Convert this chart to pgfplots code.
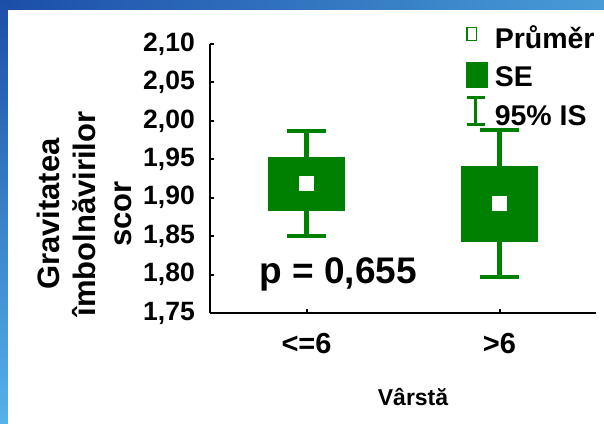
\documentclass[border=0pt]{standalone}
\usepackage{fontspec}
\setmainfont{Liberation Sans}
\usepackage{pgfplots}
\pgfplotsset{compat=1.18}
\usepgfplotslibrary{statistics}
\definecolor{ggreen}{RGB}{0,128,0}
\definecolor{bdark}{RGB}{28,78,168}
\definecolor{blightr}{RGB}{72,155,215}
\definecolor{blightb}{RGB}{85,178,232}
\begin{document}
\begin{tikzpicture}
\shade[left color=bdark, right color=blightr] (0pt,413pt) rectangle (604pt,423pt);
\shade[top color=bdark, bottom color=blightb] (0pt,0pt) rectangle (8pt,423pt);
\fill[white] (8pt,0pt) rectangle (604pt,413pt);
\begin{axis}[
  at={(210pt,110pt)}, anchor=south west,
  scale only axis, width=386pt, height=269pt,
  xmin=0.5, xmax=2.5, ymin=1.75, ymax=2.10,
  axis lines*=left,
  axis line style={line width=2.4pt, black},
  clip=false,
  xtick={1,2}, xticklabels={{<=6},{>6}},
  ytick={1.75,1.80,1.85,1.90,1.95,2.00,2.05,2.10},
  tick align=inside, major tick length=4pt,
  tick style={line width=2pt, black},
  /pgf/number format/assume math mode=true,
  yticklabel style={/pgf/number format/.cd, fixed, fixed zerofill, precision=2, use comma, /tikz/.cd,
     font=\fontsize{26.5}{30}\selectfont\bfseries, anchor=east, inner sep=0pt, xshift=-15pt},
  xticklabel style={font=\fontsize{29}{32}\selectfont\bfseries, anchor=north, inner sep=0pt, yshift=-20pt},
  ylabel={Gravitatea\\îmbolnăvirilor\\scor},
  ylabel style={at={(axis description cs:-0.326,0.368)}, anchor=center, align=center,
     font=\fontsize{31}{36}\selectfont\bfseries},
  xlabel={Vârstă},
  xlabel style={at={(axis description cs:0.526,-0.342)}, anchor=base,
     font=\fontsize{23}{27}\selectfont\bfseries},
  boxplot/draw direction=y,
  boxplot/every box/.style={draw=none, fill=ggreen},
  boxplot/every whisker/.style={draw=ggreen, line width=4.5pt},
  boxplot/every median/.style={draw=none},
  legend style={at={(axis description cs:0.661,1.1045)}, anchor=north west,
     draw=none, fill=none, inner sep=0pt, outer sep=0pt,
     nodes={inner sep=0pt},
     row sep=3pt, column sep=7pt,
     font=\fontsize{28.5}{33}\selectfont\bfseries},
  legend cell align=left,
]
\addlegendimage{legend image code/.code={
  \path[draw=none, fill=none] (0pt,-14pt) rectangle (21pt,22pt);
  \draw[ggreen, fill=white, line width=1.2pt] (0.5pt,-2.5pt) rectangle (10pt,10pt);}}
\addlegendentry{Průměr}
\addlegendimage{legend image code/.code={
  \path[draw=none, fill=none] (0pt,-14pt) rectangle (21pt,22pt);
  \fill[ggreen] (0pt,-10pt) rectangle (21pt,15pt);}}
\addlegendentry{SE}
\addlegendimage{legend image code/.code={
  \path[draw=none, fill=none] (0pt,-14pt) rectangle (21pt,22pt);
  \draw[ggreen, line width=2.8pt] (0pt,-9pt) -- (18pt,-9pt) (0pt,18pt) -- (18pt,18pt) (9pt,-9pt) -- (9pt,18pt);}}
\addlegendentry{95\% IS}

\addplot[boxplot prepared={draw position=1, lower whisker=1.850, lower quartile=1.883,
   median=1.9185, upper quartile=1.953, upper whisker=1.987, box extend=0.404, whisker extend=0.2},
   ggreen, forget plot] coordinates {};
\addplot[boxplot prepared={draw position=2, lower whisker=1.797, lower quartile=1.842,
   median=1.8925, upper quartile=1.941, upper whisker=1.988, box extend=0.404, whisker extend=0.2},
   ggreen, forget plot] coordinates {};
\addplot[only marks, mark=square*, mark size=7pt, mark options={fill=white, draw=white, line width=0.6pt}, forget plot]
   coordinates {(1,1.9185) (2,1.8925)};
\node[anchor=base west, font=\fontsize{37}{40}\selectfont\bfseries] at (axis description cs:0.119,0.1115) {p = 0,655};
\end{axis}
\pgfresetboundingbox
\path[use as bounding box] (0pt,0pt) rectangle (604pt,423pt);
\end{tikzpicture}
\end{document}
